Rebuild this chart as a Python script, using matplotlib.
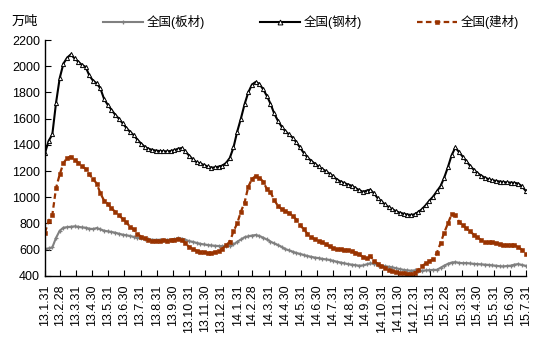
import matplotlib
matplotlib.use("Agg")
import matplotlib.pyplot as plt
from matplotlib.lines import Line2D
import pandas as pd

# 周度数据 2013-01-31 起，共131周
start_date = "2013-01-31"
n_weeks = 131

# 全国(板材) 万吨
plate = [
    605, 610, 618, 690, 745, 768, 772, 775, 778, 775,
    770, 768, 760, 758, 765, 755, 745, 740, 735, 730,
    722, 715, 710, 705, 698, 690, 686, 682, 678, 676,
    675, 676, 674, 675, 676, 680, 686, 684, 676, 665,
    660, 652, 645, 640, 636, 632, 630, 628, 627, 628,
    630, 640, 660, 678, 695, 702, 708, 712, 705, 692,
    678, 662, 648, 636, 622, 605, 595, 585, 575, 568,
    560, 552, 546, 540, 536, 530, 526, 522, 515, 508,
    502, 496, 490, 486, 482, 478, 480, 488, 496, 493,
    486, 478, 474, 470, 465, 458, 452, 446, 442, 440,
    442, 440, 440, 442, 444, 446, 446, 462, 478, 492,
    502, 505, 500, 497, 498, 495, 492, 490, 488, 486,
    484, 480, 478, 474, 472, 476, 478, 486, 490, 484,
    477,
]

# 全国(钢材) 万吨
steel = [
    1336, 1430, 1480, 1720, 1910, 2020, 2065, 2090, 2060, 2035,
    2010, 1995, 1930, 1890, 1870, 1830, 1750, 1705, 1668, 1630,
    1600, 1565, 1530, 1500, 1475, 1440, 1410, 1385, 1370, 1362,
    1356, 1353, 1352, 1350, 1353, 1360, 1370, 1376, 1350, 1318,
    1290, 1268, 1258, 1247, 1235, 1226, 1228, 1234, 1242, 1262,
    1300, 1380, 1500, 1600, 1710, 1800, 1860, 1880, 1865, 1825,
    1775, 1715, 1640, 1585, 1540, 1505, 1480, 1455, 1420, 1380,
    1338, 1305, 1278, 1256, 1235, 1215, 1200, 1180, 1160, 1135,
    1120, 1108, 1097, 1088, 1070, 1055, 1042, 1050, 1058, 1030,
    993, 970, 945, 925, 908, 893, 882, 875, 868, 865,
    870, 888, 910, 940, 975, 1005, 1045, 1085, 1150, 1230,
    1320, 1380, 1345, 1310, 1275, 1240, 1210, 1185, 1165, 1150,
    1138, 1130, 1125, 1120, 1117, 1113, 1112, 1110, 1105, 1085,
    1050,
]

# 全国(建材) 万吨
building = [
    730, 820, 865, 1070, 1175, 1260, 1300, 1310, 1285, 1265,
    1235, 1218, 1175, 1140, 1105, 1030, 975, 950, 915, 890,
    865, 835, 810, 775, 755, 720, 700, 688, 675, 670,
    668, 668, 672, 670, 675, 676, 680, 672, 650, 620,
    605, 592, 585, 580, 575, 573, 580, 592, 608, 635,
    660, 740, 800, 890, 960, 1080, 1140, 1162, 1150, 1120,
    1065, 1040, 980, 935, 910, 895, 880, 860, 830, 790,
    755, 722, 695, 680, 668, 655, 640, 625, 612, 604,
    602, 600, 598, 590, 578, 565, 545, 535, 553, 515,
    492, 478, 462, 448, 438, 428, 422, 420, 418, 416,
    420, 445, 475, 495, 512, 527, 575, 650, 730, 800,
    870, 862, 815, 785, 762, 740, 715, 695, 672, 655,
    658, 660, 650, 640, 636, 636, 636, 635, 620, 600,
    568,
]

series_names = ["全国(板材)", "全国(钢材)", "全国(建材)"]

FONT = ["Liberation Sans", "Noto Sans CJK SC", "DejaVu Sans"]

GRAY = "#808080"
BROWN = "#993300"


def draw_chart():
    plt.rcParams["font.family"] = FONT
    dates = pd.date_range(start_date, periods=n_weeks, freq="7D")
    tick_dates = pd.date_range("2013-01-31", "2015-07-31", freq="ME")

    fig = plt.figure(figsize=(5.48, 3.51), dpi=100)
    ax = fig.add_axes([0.082, 0.214, 0.878, 0.672])

    # 板材：灰色 + 标记
    plate_style = dict(color=GRAY, lw=1.5, marker="+", ms=2.8, mew=0.9)
    # 钢材：黑线 空心三角
    steel_style = dict(color="black", lw=1.5, marker="^", ms=3.0,
                       mfc="white", mec="black", mew=0.7)
    # 建材：棕色虚线 方块
    build_style = dict(color=BROWN, lw=1.6, ls=(0, (2.5, 1.5)), marker="s",
                       ms=2.2, mew=0.4)

    ax.plot(dates, plate, **plate_style)
    ax.plot(dates, steel, **steel_style)
    ax.plot(dates, building, **build_style)

    ax.set_ylim(400, 2200)
    ax.set_yticks(range(400, 2201, 200))
    ax.set_xlim(tick_dates[0], tick_dates[-1])
    ax.set_xticks(tick_dates)
    ax.set_xticklabels([f"{d.year % 100}.{d.month}.{d.day}" for d in tick_dates],
                       rotation=90)
    ax.tick_params(axis="both", direction="in", length=4, width=0.8,
                   labelsize=9, colors="black")
    ax.tick_params(axis="x", pad=6)

    for side in ["top", "right"]:
        ax.spines[side].set_visible(False)
    for side in ["left", "bottom"]:
        ax.spines[side].set_linewidth(1.0)
        ax.spines[side].set_color("black")

    fig.text(0.022, 0.937, "万吨", fontsize=9.5, va="center", ha="left")

    handles = [
        Line2D([], [], **plate_style),
        Line2D([], [], **{**steel_style, "ms": 3.5}),
        Line2D([], [], **build_style),
    ]
    fig.legend(handles, series_names, loc="center", ncol=3,
               bbox_to_anchor=(0.568, 0.937), frameon=False, fontsize=9,
               handlelength=3.2, handletextpad=0.3, columnspacing=4.4,
               numpoints=1)

    fig.savefig("out.png", dpi=100)


def main():
    draw_chart()


if __name__ == "__main__":
    main()
